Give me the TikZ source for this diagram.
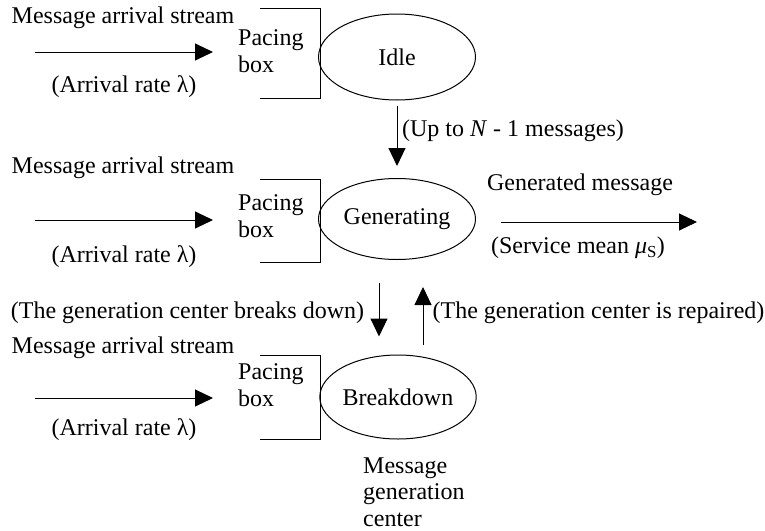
\documentclass[tikz,border=0pt]{standalone}
\usepackage{fontspec}
\setmainfont{Liberation Serif}
\usetikzlibrary{arrows.meta,shapes.geometric}
\begin{document}
\begin{tikzpicture}[x=1pt,y=-1pt,
  every node/.style={inner sep=0pt,font=\fontsize{24}{27}\selectfont},
  lbl/.style={},
  state/.style={draw,ellipse,line width=1pt,minimum width=157pt},
  arr/.style={line width=1pt,-{Triangle[length=18pt,width=17pt]}},
  pbox/.style={line width=1pt},
  ptext/.style={align=left,anchor=west}]
\useasboundingbox (0,0) rectangle (765,530);

% states
\node[state,minimum height=86pt] (idle) at (397,57) {Idle};
\node[state,minimum height=81pt] (gen) at (397,219) {Generating};
\node[state,minimum height=84pt,minimum width=156pt] (brk) at (398,397) {Breakdown};

% pacing boxes
\foreach \n/\t/\b in {1/8/98,2/179/262,3/355/439}{
  \draw[pbox] (260,\t) -- (320,\t) -- (320,\b) -- (260,\b);
}
\node[ptext] (p1) at (238,51) {Pacing\\box};
\node[ptext] (p2) at (238,216) {Pacing\\box};
\node[ptext] (p3) at (238,385) {Pacing\\box};

% input streams
\foreach \n/\ym/\ya/\yr in {1/18/52/87,2/168/220/257,3/348/398/430}{
  \node[lbl] (m\n) at (123,\ym) {Message arrival stream};
  \node[lbl] (r\n) at (124,\yr) {(Arrival rate λ)};
  \coordinate (s\n) at (35,\ya);
  \coordinate (e\n) at (213,\ya);
  \draw[arr] (s\n) -- (e\n);
}

% idle -> generating
\draw[arr] ([yshift=-5pt]idle.south) -- ([yshift=12pt]gen.north);
\node[lbl] (upto) at (513,131) {(Up to \textit{N} - 1 messages)};

% generated output
\coordinate (go1) at (501,222);
\coordinate (go2) at (697,222);
\draw[arr] (go1) -- (go2);
\node[lbl] (gm) at (580,185) {Generated message};
\node[lbl] (sm) at (578,248) {(Service mean \textit{μ}\textsubscript{S})};

% breakdown / repair
\draw[arr] ([xshift=-18pt,yshift=-23pt]gen.south) -- ([xshift=-19pt,yshift=18pt]brk.north);
\draw[arr] ([xshift=25pt,yshift=10pt]brk.north) -- ([xshift=26pt,yshift=-27pt]gen.south);
\node[lbl] (bd) at (187.5,313) {(The generation center breaks down)};
\node[lbl] (rp) at (598.5,313) {(The generation center is repaired)};

\node[align=left,anchor=west,font=\fontsize{24}{26.5}\selectfont] (mgc) at (363,492) {Message\\generation\\center};
\end{tikzpicture}
\end{document}
